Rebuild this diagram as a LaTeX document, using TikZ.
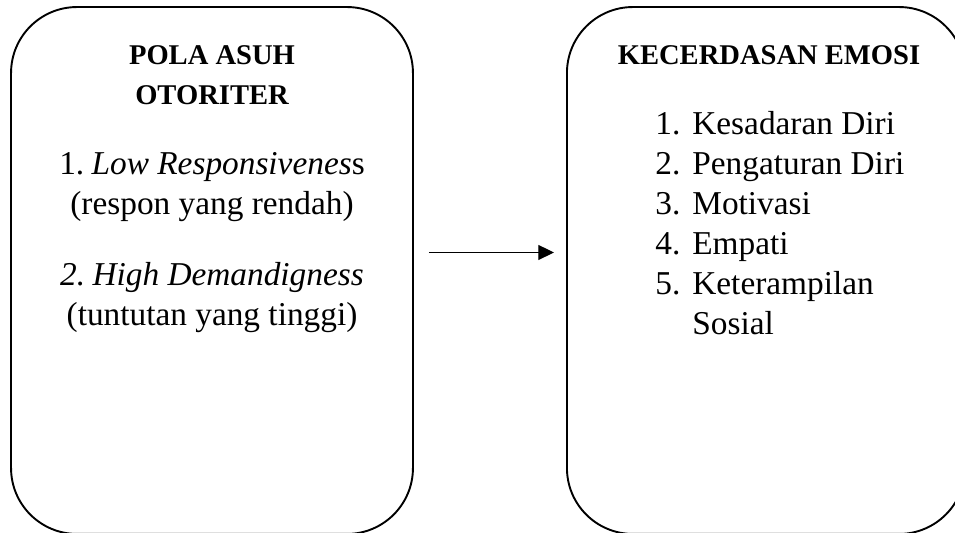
\documentclass[tikz,border=0pt]{standalone}
\usepackage{fontspec}
\setmainfont{Liberation Serif}
\usepackage{tikz}
\usetikzlibrary{arrows.meta}

\begin{document}
\begin{tikzpicture}[
  x=0.42pt, y=0.42pt,
  panel/.style={rectangle, draw, line width=0.8pt, rounded corners=27.7pt, minimum height=221.3pt, inner sep=0pt},
  txt/.style={font=\fontsize{14}{16.8}\selectfont, inner sep=0pt, anchor=base},
  head/.style={font=\fontsize{12}{16.8}\selectfont\bfseries, inner sep=0pt, anchor=base},
  arrow/.style={-{Triangle[length=6.6pt,width=6.3pt]}, line width=0.5pt}
]
\useasboundingbox (0,0) rectangle (955,533);
\node[panel, minimum width=168.8pt] (pola) at (212,262.5) {};
\node[panel, minimum width=167.2pt] (emosi) at (766,262.5) {};

% left panel
\node[head] (polatitle) at ([shift={(0,-58)}]pola.north) {\begin{tabular}[t]{@{}c@{}}POLA ASUH\\ OTORITER\end{tabular}};
\node[txt] (low) at ([shift={(0,-168)}]pola.north) {\begin{tabular}[t]{@{}c@{}}1.\hspace{0.22em}\textit{Low Responsivenes}s\\ (respon yang rendah)\end{tabular}};
\node[txt] (high) at ([shift={(0,-279)}]pola.north) {\begin{tabular}[t]{@{}c@{}}\textit{2.\hspace{0.22em}High Demandigness}\\ (tuntutan yang tinggi)\end{tabular}};

% right panel
\node[head] (emosititle) at ([shift={(3,-58)}]emosi.north) {KECERDASAN EMOSI};
\node[txt, anchor=base west] (aspek) at ([shift={(89,-128)}]emosi.north west) {\begin{tabular}[t]{@{}l@{\hspace{5pt}}l@{}}
1. & Kesadaran Diri\\
2. & Pengaturan Diri\\
3. & Motivasi\\
4. & Empati\\
5. & Keterampilan\\
   & Sosial
\end{tabular}};

\draw[arrow] ([shift={(15,18)}]pola.east) -- ([shift={(-12,18)}]emosi.west);
\end{tikzpicture}
\end{document}
